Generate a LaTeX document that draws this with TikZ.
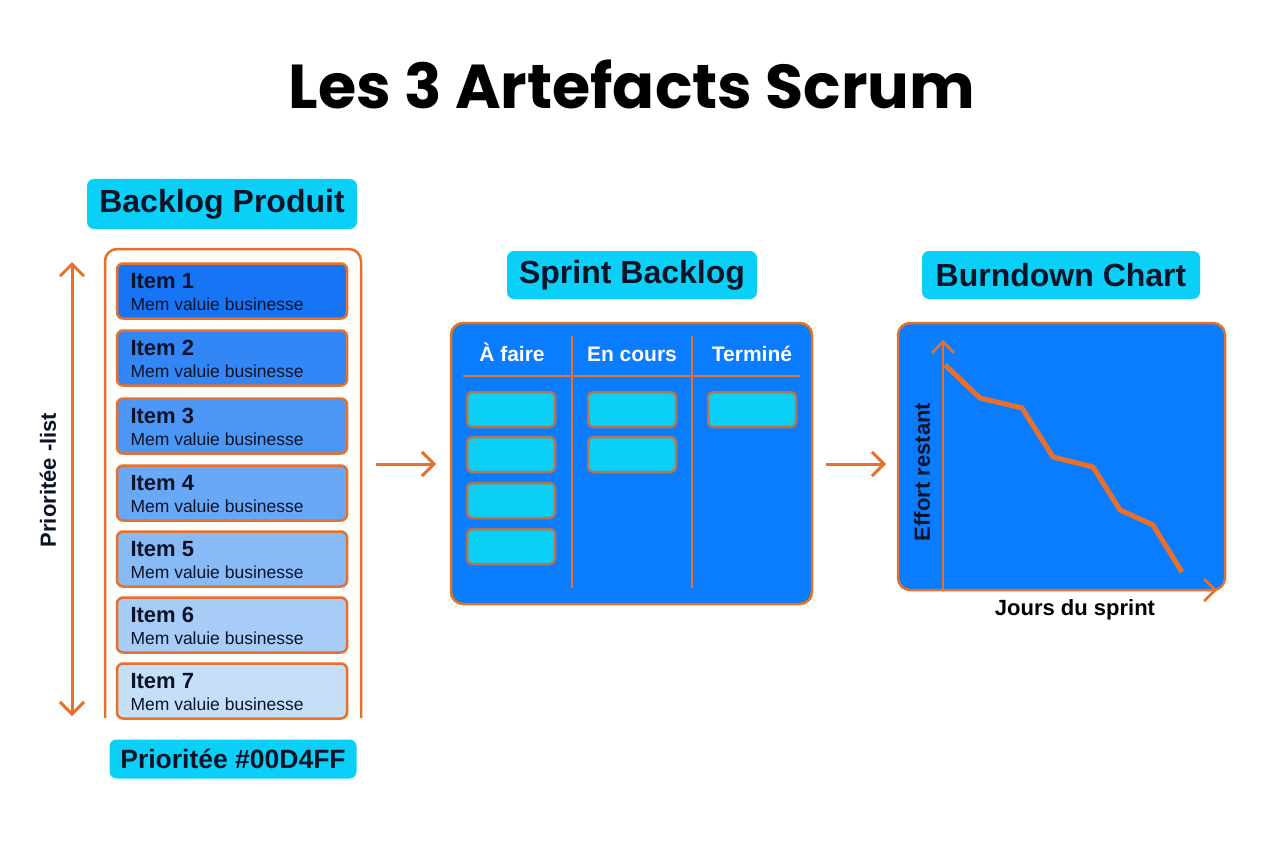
\documentclass[tikz,border=0pt]{standalone}
\usepackage{fontspec}
\setmainfont{Liberation Sans}
\newfontfamily\titlefont{Poppins}
\usetikzlibrary{arrows.meta}
\definecolor{orng}{HTML}{E8702A}
\definecolor{cyanl}{HTML}{0AD0F8}
\definecolor{panelb}{HTML}{0A7CFF}
\definecolor{navy}{HTML}{0B1328}
\definecolor{cardb}{HTML}{B8744E}
\definecolor{it1}{HTML}{1674F5}
\definecolor{it2}{HTML}{3286F5}
\definecolor{it3}{HTML}{4C97F5}
\definecolor{it4}{HTML}{69A8F6}
\definecolor{it5}{HTML}{88BAF6}
\definecolor{it6}{HTML}{A6CCF7}
\definecolor{it7}{HTML}{C6DFF9}
\begin{document}
\begin{tikzpicture}[x=1pt,y=-1pt,
  lbl/.style={fill=cyanl,rounded corners=7pt,inner sep=0pt,font=\bfseries\fontsize{32}{34}\selectfont,text=navy},
  itembox/.style={draw=orng,line width=2.5pt,rounded corners=6pt,minimum width=230pt,minimum height=55pt,inner sep=0pt},
  card/.style={draw=cardb,fill=cyanl,line width=2.5pt,rounded corners=5pt,minimum width=88pt,minimum height=35pt,inner sep=0pt},
  panel/.style={draw=orng,fill=panelb,line width=2.5pt,rounded corners=12pt,inner sep=0pt},
  barb/.style={Straight Barb[length=12pt,width=24pt,line width=3pt]},
  flow/.style={draw=orng,line width=3pt,-{Straight Barb[length=12pt,width=24pt,line width=3pt]}},
  hdr/.style={anchor=base,text=white,font=\bfseries\fontsize{21}{23}\selectfont},
  ititle/.style={anchor=west,text=navy,font=\bfseries\fontsize{22}{24}\selectfont},
  isub/.style={anchor=west,text=navy,font=\fontsize{17.5}{19}\selectfont},
  side/.style={text=navy,font=\bfseries\fontsize{22}{24}\selectfont},
]
\useasboundingbox[fill=white] (0,0) rectangle (1264,848);

% title
\node (title) at (632,84) {\titlefont\bfseries\fontsize{62}{64}\selectfont Les 3 Artefacts Scrum};

% ---------- Backlog produit ----------
\node[lbl,minimum width=270pt,minimum height=50pt] (bpl) at (222,204) {Backlog Produit};
\draw[orng,line width=2.5pt,rounded corners=12pt] (105,718) -- (105,249) -- (361,249) -- (361,718);
\foreach \i/\y/\c in {1/291/it1,2/358/it2,3/426/it3,4/493/it4,5/559/it5,6/625/it6,7/691/it7}{
  \node[itembox,fill=\c] (item\i) at (232,\y) {};
  \node[ititle] (it\i t) at (127,\y-10) {Item \i};
  \node[isub] (it\i s) at (127,\y+13) {Mem valuie businesse};
}
\coordinate (pa) at (72,262);
\coordinate (pb) at (72,716);
\draw[orng,line width=3pt,{Straight Barb[length=12pt,width=24pt,line width=3pt]}-{Straight Barb[length=12pt,width=24pt,line width=3pt]}] (pa) -- (pb);
\node[side,rotate=90] (plist) at (48,480) {Prioritée -list};
\node[lbl,minimum width=247pt,minimum height=39pt,font=\bfseries\fontsize{26.5}{28}\selectfont] (prio) at (233,759) {Prioritée \#00D4FF};

% ---------- Sprint backlog ----------
\node[lbl,minimum width=250pt,minimum height=48pt] (sbl) at (632,275) {Sprint Backlog};
\node[panel,minimum width=361pt,minimum height=281pt] (sp) at (631.5,463.5) {};
\node[hdr] (h1) at (512,361) {À faire};
\node[hdr] (h2) at (632,361) {En cours};
\node[hdr] (h3) at (752,361) {Terminé};
\draw[orng,line width=2.5pt] (463,376) -- (800,376);
\draw[orng,line width=2.5pt] (572,336) -- (572,588);
\draw[orng,line width=2.5pt] (692,336) -- (692,588);
\node[card] (c1) at (511,409.5) {};
\node[card] (c2) at (511,454.5) {};
\node[card] (c3) at (511,500.5) {};
\node[card] (c4) at (511,546.5) {};
\node[card] (c5) at (632,409.5) {};
\node[card] (c6) at (632,454.5) {};
\node[card] (c7) at (752,409.5) {};

% ---------- Burndown ----------
\node[lbl,minimum width=278pt,minimum height=48pt] (bcl) at (1061,275) {Burndown Chart};
\node[panel,minimum width=327pt,minimum height=267pt] (bc) at (1061.5,456.5) {};
\coordinate (o) at (943,590);
\coordinate (ytop) at (943,340);
\coordinate (xend) at (1217,590);
\draw[orng,line width=2.5pt,-{Straight Barb[length=11pt,width=22pt,line width=2.5pt]}] (o) -- (ytop);
\draw[orng,line width=2.5pt,-{Straight Barb[length=11pt,width=22pt,line width=2.5pt]}] (o) -- (xend);
\draw[orng,line width=5pt,line join=round] (945,365) -- (980,398) -- (1022,408) -- (1053,457) -- (1093,467) -- (1120,510) -- (1153,525) -- (1182,572);
\node[side,rotate=90] (eff) at (922,472) {Effort restant};
\node[side,text=black] (jours) at (1075,610) {Jours du sprint};

% ---------- flow arrows ----------
\coordinate (a1s) at (376,464);
\coordinate (a1e) at (436,464);
\coordinate (a2s) at (826,464);
\coordinate (a2e) at (886,464);
\draw[flow] (a1s) -- (a1e);
\draw[flow] (a2s) -- (a2e);
\end{tikzpicture}
\end{document}
